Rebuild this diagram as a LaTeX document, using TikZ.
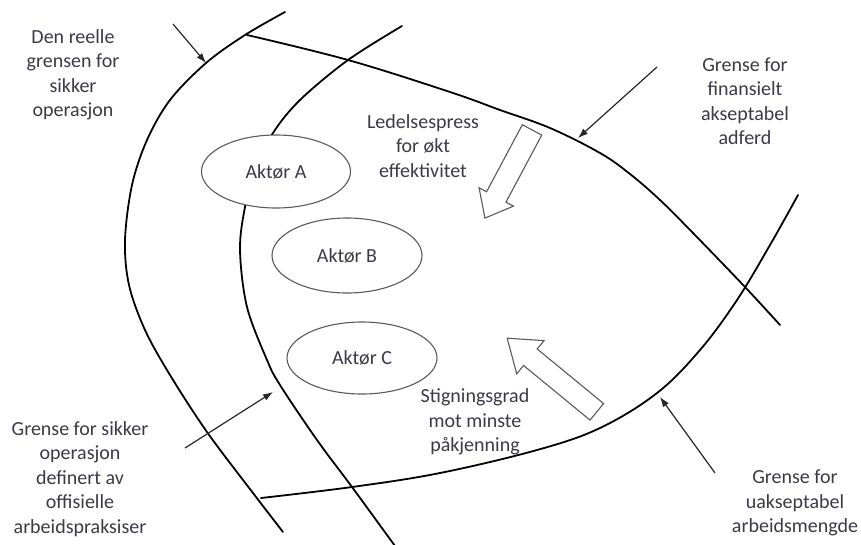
\documentclass[tikz,border=0pt]{standalone}
\usepackage{fontspec}
\setmainfont{Carlito}
\usepackage{tikz}
\usetikzlibrary{arrows.meta,shapes.geometric}

\definecolor{textgray}{RGB}{58,58,72}
\definecolor{rimgray}{RGB}{90,90,90}

\tikzset{
  boundary/.style={line width=1.8pt, black, line cap=round},
  actor/.style={ellipse, draw=rimgray, line width=1.1pt, fill=white, inner sep=0pt,
    minimum width=149pt, minimum height=73pt, text=textgray, font=\fontsize{20}{24}\selectfont},
  note/.style={align=center, text=textgray, font=\fontsize{20}{24.5}\selectfont},
  pointer/.style={-{Latex[length=10pt,width=7pt]}, line width=1.2pt, black!85},
  hollow/.style={draw=rimgray, line width=1.1pt, fill=white, line join=miter},
}

\begin{document}
\begin{tikzpicture}[x=1pt,y=-1pt]
\useasboundingbox (0,0) rectangle (861,544);

% grenser
\draw[boundary] plot[smooth, tension=0.55] coordinates {(285,12) (245,35) (206,63) (170,100) (147,140) (132,185) (125,240) (129,285) (145,330) (170,375) (207,432) (253,493) (283,532)};
\draw[boundary] plot[smooth, tension=0.55] coordinates {(402,26) (348,60) (300,100) (273,133) (255,170) (245,207) (240,250) (247,307) (267,360) (280,385) (317,440) (352,487) (395,546)};
\draw[boundary] plot[smooth, tension=0.6] coordinates {(247,35) (348,60) (450,92) (500,110) (550,128) (600,153) (630,174) (660,200) (693,233) (745,287) (780,325)};
\draw[boundary] plot[smooth, tension=0.6] coordinates {(261,498) (352,487) (440,473) (537,450) (600,428) (657,393) (700,350) (737,300) (770,245) (798,195)};

% aktorer
\node[actor] (aktorA) at (276,171.5) {Aktør A};
\node[actor, minimum width=150pt, minimum height=75pt] (aktorB) at (347,255.5) {Aktør B};
\node[actor, minimum width=150pt, minimum height=72pt] (aktorC) at (362,358) {Aktør C};

% tekster
\node[note] (reelle) at (73,75) {Den reelle\\grensen for\\sikker\\operasjon};
\node[note] (press) at (423,146) {Ledelsespress\\for økt\\effektivitet};
\node[note] (finans) at (745,101) {Grense for\\finansielt\\akseptabel\\adferd};
\node[note] (offisiell) at (80,479) {Grense for sikker\\operasjon\\definert av\\offisielle\\arbeidspraksiser};
\node[note] (stigning) at (475,422) {Stigningsgrad\\mot minste\\påkjenning};
\node[note] (arbeid) at (795,503) {Grense for\\uakseptabel\\arbeidsmengde};

% piler mot grensene
\coordinate (fraReelle) at (173,24);
\coordinate (tilReelle) at (206,63);
\coordinate (fraFinans) at (657,67);
\coordinate (tilFinans) at (578,138);
\coordinate (fraOffisiell) at (185,448);
\coordinate (tilOffisiell) at (273,392);
\coordinate (fraArbeid) at (715,473);
\coordinate (tilArbeid) at (660,397);
\draw[pointer] (fraReelle) -- (tilReelle);
\draw[pointer] (fraFinans) -- (tilFinans);
\draw[pointer] (fraOffisiell) -- (tilOffisiell);
\draw[pointer] (fraArbeid) -- (tilArbeid);

% blokkpiler
\begin{scope}[shift={(508.5,174)}, rotate=241.9]
\draw[hollow] (-50,-11) -- (26,-11) -- (26,-19.5) -- (50,0) -- (26,19.5) -- (26,11) -- (-50,11) -- cycle;
\end{scope}
\begin{scope}[shift={(552,375)}, rotate=140.6]
\draw[hollow] (-58,-10.7) -- (28,-10.7) -- (28,-21.5) -- (58,0) -- (28,21.5) -- (28,10.7) -- (-58,10.7) -- cycle;
\end{scope}
\end{tikzpicture}
\end{document}
